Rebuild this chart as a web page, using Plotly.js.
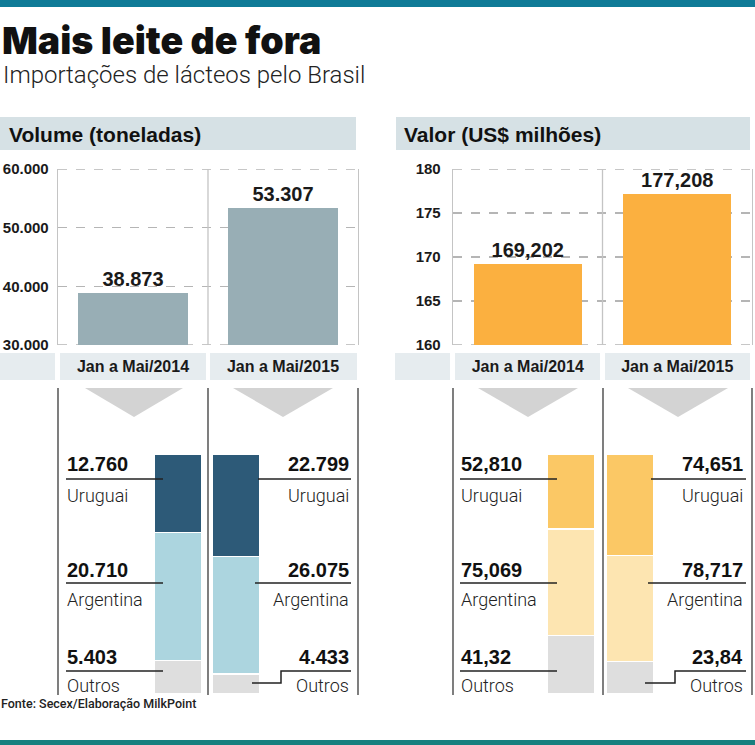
<!DOCTYPE html>
<html>
<head>
<meta charset="utf-8">
<script src="https://cdn.plot.ly/plotly-3.0.1.min.js"></script>
<style>html,body{margin:0;padding:0;background:#fff;}#chart{width:755px;height:745px;}</style>
</head>
<body>
<div id="chart"></div>
<script>
// ---------- DATA ----------
const periods = ['Jan a Mai/2014', 'Jan a Mai/2015'];
const volumeTotal = [38873, 53307];          // toneladas
const valorTotal = [169.202, 177.208];        // US$ milhões
const origins = ['Outros', 'Argentina', 'Uruguai'];
const volume2014 = [5403, 20710, 12760];
const volume2015 = [4433, 26075, 22799];
const valor2014 = [41.32, 75.069, 52.810];
const valor2015 = [23.84, 78.717, 74.651];
const valorLabels2014 = ['41,32', '75,069', '52,810'];
const valorLabels2015 = ['23,84', '78,717', '74,651'];
const volumeTicks = [30000, 40000, 50000, 60000];
const valorTicks = [160, 165, 170, 175, 180];

// ---------- HELPERS ----------
const W = 755, H = 745;
const X = p => p / W, Y = p => 1 - p / H;
const fmtThousands = n => String(n).replace(/\B(?=(\d{3})+(?!\d))/g, '.');
const share = (arr) => { const s = arr.reduce((a, b) => a + b, 0); return arr.map(v => v / s * 100); };

const BOLD = 'Liberation Sans, Arial, sans-serif';
const LIGHT = 'Roboto, Liberation Sans, sans-serif';

const volColors = { Outros: '#dedede', Argentina: '#acd5df', Uruguai: '#2d5a78' };
const valColors = { Outros: '#dedede', Argentina: '#fde5b1', Uruguai: '#fbc865' };

const traces = [];
// top bars
traces.push({
  type: 'bar', x: periods, y: volumeTotal, xaxis: 'x', yaxis: 'y',
  marker: { color: '#98aeb5' }, width: 0.735,
  texttemplate: '%{y:,.0f}', textposition: 'outside', cliponaxis: false,
  textfont: { family: BOLD, size: 20, color: '#1a1a1a', weight: 'bold' },
  hoverinfo: 'skip'
});
traces.push({
  type: 'bar', x: periods, y: valorTotal, xaxis: 'x3', yaxis: 'y3',
  marker: { color: '#fbb040' }, width: 0.725,
  texttemplate: '%{y:.3f}', textposition: 'outside', cliponaxis: false,
  textfont: { family: BOLD, size: 20, color: '#1a1a1a', weight: 'bold' },
  hoverinfo: 'skip'
});
// stacked share bars
const vs14 = share(volume2014), vs15 = share(volume2015);
const ws14 = share(valor2014), ws15 = share(valor2015);
origins.forEach((o, i) => {
  traces.push({
    type: 'bar', x: periods, y: [vs14[i], vs15[i]], xaxis: 'x2', yaxis: 'y2', name: o,
    marker: { color: volColors[o], line: { color: '#fff', width: 1.2 } }, width: 0.8,
    hoverinfo: 'skip', showlegend: false
  });
  traces.push({
    type: 'bar', x: periods, y: [ws14[i], ws15[i]], xaxis: 'x4', yaxis: 'y4', name: o,
    marker: { color: valColors[o], line: { color: '#fff', width: 1.2 } }, width: 0.8,
    hoverinfo: 'skip', showlegend: false
  });
});

const topY = [Y(345), Y(169)];
const botY = [Y(694), Y(454)];
const hiddenAx = { showgrid: false, zeroline: false, showticklabels: false, showline: false, ticks: '', fixedrange: true };
const tickFont = { family: BOLD, size: 15, color: '#1a1a1a', weight: 'bold' };
const catFont = { family: BOLD, size: 16, color: '#1a1a1a', weight: 'bold' };

const layout = {
  width: W, height: H, margin: { l: 0, r: 0, t: 0, b: 0 },
  paper_bgcolor: '#fff', plot_bgcolor: 'rgba(0,0,0,0)',
  separators: ',.', barmode: 'stack', showlegend: false,
  xaxis: {
    domain: [X(58), X(358)], anchor: 'y', type: 'category', range: [-0.5, 1.5],
    showgrid: false, zeroline: false, showline: false, ticks: '',
    tickfont: catFont, ticklabelstandoff: 10
  },
  yaxis: {
    domain: topY, anchor: 'x', range: [30000, 60000], tickvals: volumeTicks, tickformat: ',d',
    showgrid: true, gridcolor: '#b5b5b5', griddash: 'dash', gridwidth: 1.3, zeroline: false,
    showline: true, mirror: true, linecolor: '#c4c4c4', linewidth: 1.3, ticks: '',
    tickfont: tickFont, ticklabelstandoff: 5
  },
  xaxis3: {
    domain: [X(453), X(752)], anchor: 'y3', type: 'category', range: [-0.5, 1.5],
    showgrid: false, zeroline: false, showline: false, ticks: '',
    tickfont: catFont, ticklabelstandoff: 10
  },
  yaxis3: {
    domain: topY, anchor: 'x3', range: [160, 180], tickvals: valorTicks,
    showgrid: true, gridcolor: '#b5b5b5', griddash: 'dash', gridwidth: 1.3, zeroline: false,
    showline: true, mirror: true, linecolor: '#c4c4c4', linewidth: 1.3, ticks: '',
    tickfont: tickFont, ticklabelstandoff: 8
  },
  xaxis2: Object.assign({ domain: [X(149), X(265)], anchor: 'y2', type: 'category', range: [-0.5, 1.5] }, hiddenAx),
  yaxis2: Object.assign({ domain: botY, anchor: 'x2', range: [0, 100] }, hiddenAx),
  xaxis4: Object.assign({ domain: [X(542), X(659)], anchor: 'y4', type: 'category', range: [-0.5, 1.5] }, hiddenAx),
  yaxis4: Object.assign({ domain: botY, anchor: 'x4', range: [0, 100] }, hiddenAx),
  shapes: [],
  annotations: []
};

const S = layout.shapes, A = layout.annotations;
const rect = (x0, y0, x1, y1, color) => S.push({ type: 'rect', xref: 'paper', yref: 'paper', x0: X(x0), x1: X(x1), y0: Y(y1), y1: Y(y0), fillcolor: color, line: { width: 0 }, layer: 'below' });
const line = (x0, y0, x1, y1, color, w) => S.push({ type: 'line', xref: 'paper', yref: 'paper', x0: X(x0), x1: X(x1), y0: Y(y0), y1: Y(y1), line: { color: color, width: w } });
const path = (pts, color, w) => S.push({ type: 'path', xref: 'paper', yref: 'paper', path: 'M' + pts.map(p => X(p[0]) + ',' + Y(p[1])).join('L'), line: { color: color, width: w } });
const tri = (x0, x1, yTop, yTip, color) => S.push({ type: 'path', xref: 'paper', yref: 'paper', path: `M${X(x0)},${Y(yTop)}L${X(x1)},${Y(yTop)}L${X((x0 + x1) / 2)},${Y(yTip)}Z`, fillcolor: color, line: { width: 0 } });
const text = (t, x, y, anchor, font) => A.push({ text: t, xref: 'paper', yref: 'paper', x: X(x), y: Y(y), xanchor: anchor, yanchor: 'middle', showarrow: false, font: font, borderpad: 0 });
// dashed edge gridlines (range ends) on data axes
const edgeGrid = (xr, yr, v) => S.push({ type: 'line', xref: xr + ' domain', yref: yr, x0: 0, x1: 1, y0: v, y1: v, line: { color: '#b5b5b5', width: 1.3, dash: 'dash' }, layer: 'below' });
edgeGrid('x', 'y', volumeTicks[0]); edgeGrid('x', 'y', volumeTicks[volumeTicks.length - 1]);
edgeGrid('x3', 'y3', valorTicks[0]); edgeGrid('x3', 'y3', valorTicks[valorTicks.length - 1]);

// teal rules
rect(0, 0, 755, 7, '#0f7b97');
rect(0, 740, 755, 745, '#16807f');
// headers
rect(0, 117, 356, 150, '#d6e1e5');
rect(396, 117, 750, 150, '#d6e1e5');
// category boxes
rect(0, 353, 55, 380, '#e6ecef'); rect(60, 353, 206, 380, '#e6ecef'); rect(210, 353, 357, 380, '#e6ecef');
rect(395, 353, 450, 380, '#e6ecef'); rect(455, 353, 600, 380, '#e6ecef'); rect(605, 353, 750, 380, '#e6ecef');
// mid dividers of top charts
S.push({ type: 'line', xref: 'x domain', yref: 'y domain', x0: 0.5, x1: 0.5, y0: 0, y1: 1, line: { color: '#c4c4c4', width: 1.3 } });
S.push({ type: 'line', xref: 'x3 domain', yref: 'y3 domain', x0: 0.5, x1: 0.5, y0: 0, y1: 1, line: { color: '#c4c4c4', width: 1.3 } });
// bottom vertical rules
[58, 208, 358, 453, 603, 752].forEach(x => line(x, 388, x, 695, '#3a3a3a', 1.3));
// triangles
tri(85, 183, 388, 417, '#d3d3d3'); tri(233, 333, 388, 417, '#d3d3d3');
tri(478, 578, 388, 417, '#d3d3d3'); tri(628, 728, 388, 417, '#d3d3d3');

// title & subtitle
text('Mais leite de fora', 1, 40, 'left', { family: 'Inter, Lato, Liberation Sans, sans-serif', size: 37.5, color: '#111', weight: 900 });
text('Importações de lácteos pelo Brasil', 2, 75, 'left', { family: LIGHT, size: 24, color: '#222', weight: 300 });
text('Volume (toneladas)', 8, 134, 'left', { family: BOLD, size: 21, color: '#111', weight: 'bold' });
text('Valor (US$ milhões)', 403, 134, 'left', { family: BOLD, size: 21, color: '#111', weight: 'bold' });
text('Fonte: Secex/Elaboração MilkPoint', 0, 703, 'left', { family: 'Roboto, sans-serif', size: 12.5, color: '#222', weight: 500 });

// breakdown labels
const rowY = { Uruguai: [464, 479, 495], Argentina: [570, 583, 599], Outros: [657, 671, 685] };
const numFont = { family: BOLD, size: 20, color: '#111', weight: 'bold' };
const nameFont = { family: LIGHT, size: 18, color: '#222', weight: 300 };
const DARK = '#222';
function leftBlock(labels, xText, xLineEnd) {
  origins.forEach((o, i) => {
    const r = rowY[o];
    text(labels[i], xText, r[0], 'left', numFont);
    line(xText, r[1], xLineEnd, r[1], DARK, 1.5);
    text(o, xText, r[2], 'left', nameFont);
  });
}
function rightBlock(labels, xText, xLineStart, xLineEnd, stepX) {
  origins.forEach((o, i) => {
    const r = rowY[o];
    text(labels[i], xText, r[0], 'right', numFont);
    if (o === 'Outros') path([[xLineStart, 683], [stepX, 683], [stepX, r[1]], [xLineEnd, r[1]]], DARK, 1.5);
    else line(xLineStart + (o === 'Uruguai' ? 6 : 3), r[1], xLineEnd, r[1], DARK, 1.5);
    text(o, xText, r[2], 'right', nameFont);
  });
}
leftBlock(volume2014.map(fmtThousands), 66, 163);
rightBlock(volume2015.map(fmtThousands), 350, 252, 351, 281);
leftBlock(valorLabels2014, 460, 557);
rightBlock(valorLabels2015, 744, 645, 746, 675);

Plotly.newPlot('chart', traces, layout, { staticPlot: true, displayModeBar: false });
</script>
</body>
</html>
